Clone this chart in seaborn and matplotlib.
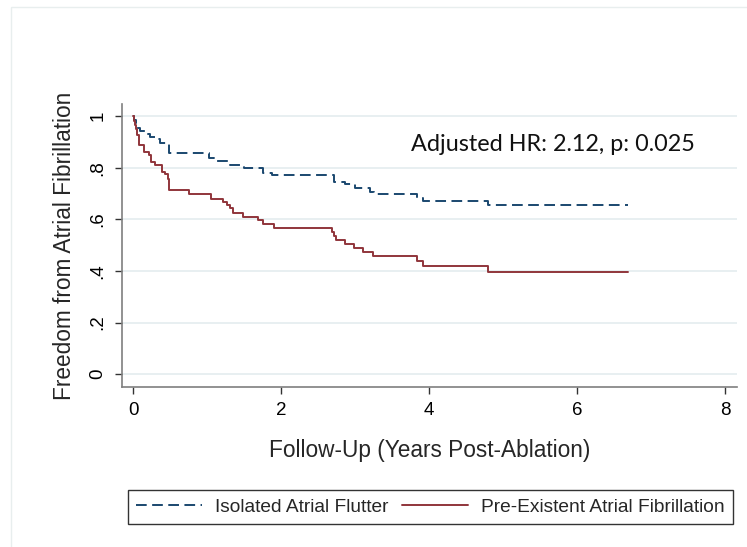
import numpy as np
import pandas as pd
import matplotlib
matplotlib.use("Agg")
import matplotlib.pyplot as plt
from matplotlib.patches import Rectangle
import seaborn as sns

# ---- data ----
flutter_time = [0.0, 0.01, 0.036, 0.06, 0.095, 0.17, 0.23, 0.30, 0.365, 0.49, 1.03, 1.10,
                1.31, 1.50, 1.76, 1.875, 2.71, 2.86, 3.00, 3.20, 3.25, 3.83, 3.92, 4.80, 6.69]
flutter_surv = [1.0, 0.985, 0.971, 0.955, 0.943, 0.932, 0.919, 0.91, 0.894, 0.856, 0.836, 0.827,
                0.81, 0.797, 0.78, 0.771, 0.746, 0.735, 0.72, 0.706, 0.70, 0.684, 0.671, 0.654, 0.654]

af_time = [0.0, 0.01, 0.02, 0.036, 0.05, 0.08, 0.153, 0.216, 0.243, 0.297, 0.396, 0.43, 0.468,
           0.49, 0.757, 1.054, 1.22, 1.266, 1.31, 1.356, 1.49, 1.694, 1.76, 1.90, 2.685, 2.72,
           2.74, 2.865, 2.98, 3.11, 3.24, 3.83, 3.92, 4.80, 6.69]
af_surv = [1.0, 0.98, 0.965, 0.95, 0.925, 0.887, 0.862, 0.849, 0.823, 0.81, 0.785, 0.775, 0.755,
           0.714, 0.70, 0.68, 0.668, 0.655, 0.642, 0.625, 0.61, 0.597, 0.58, 0.565, 0.552, 0.535,
           0.52, 0.505, 0.49, 0.475, 0.456, 0.44, 0.42, 0.394, 0.394]

groups = ["Isolated Atrial Flutter", "Pre-Existent Atrial Fibrillation"]
x_ticks = [0, 2, 4, 6, 8]
y_ticks = [0, 0.2, 0.4, 0.6, 0.8, 1.0]
y_tick_labels = ["0", ".2", ".4", ".6", ".8", "1"]
annotation = "Adjusted HR: 2.12, p: 0.025"

df = pd.concat([
    pd.DataFrame({"time": flutter_time, "surv": flutter_surv, "group": groups[0]}),
    pd.DataFrame({"time": af_time, "surv": af_surv, "group": groups[1]}),
], ignore_index=True)

sns.set_theme(style="white")
plt.rcParams["font.family"] = ["Liberation Sans", "DejaVu Sans"]

fig = plt.figure(figsize=(7.47, 5.47), dpi=100)

# faint outer graph-region outline
fig.patches.append(Rectangle((11 / 747, -0.05), 1.1, 1 - 7 / 547 + 0.05,
                             transform=fig.transFigure, fill=False,
                             edgecolor="#e8eeee", linewidth=1.0, zorder=0))

ax = fig.add_axes([122 / 747, 1 - 387 / 547, (737 - 122) / 747, (387 - 104) / 547])
ax.patch.set_alpha(0)

navy = "#1a476f"
maroon = "#90353b"
sns.lineplot(data=df, x="time", y="surv", hue="group", style="group",
             hue_order=groups, style_order=groups,
             palette={groups[0]: navy, groups[1]: maroon},
             dashes={groups[0]: (5.5, 2.8), groups[1]: ""},
             estimator=None, sort=False, drawstyle="steps-post",
             linewidth=1.4, ax=ax, legend=True)

ax.set_xlim(-0.149, 8.16)
ax.set_ylim(-0.05, 1.047)
ax.set_xticks(x_ticks)
ax.set_xticklabels([str(t) for t in x_ticks])
ax.set_yticks(y_ticks)
ax.set_yticklabels(y_tick_labels, rotation=90, va="center")
ax.yaxis.grid(True, color="#e6eef0", linewidth=1.3)
ax.xaxis.grid(False)
ax.set_axisbelow(True)

for s in ["top", "right"]:
    ax.spines[s].set_visible(False)
for s in ["left", "bottom"]:
    ax.spines[s].set_color("#7f7f7f")
    ax.spines[s].set_linewidth(1.2)

ax.tick_params(axis="both", direction="out", length=5, width=1, color="#333333",
               labelsize=13.5, labelcolor="black", pad=6)
ax.tick_params(axis="both", which="both", bottom=True, left=True)

ax.set_xlabel("Follow-Up (Years Post-Ablation)", fontsize=16.3, labelpad=14)
ax.set_ylabel("Freedom from Atrial Fibrillation", fontsize=16.3, labelpad=10)

ax.text(3.76, 0.89, annotation, fontsize=16.8, family=["Lato", "DejaVu Sans"],
        ha="left", va="center", color="#111111")

handles, labels = ax.get_legend_handles_labels()
ax.legend_.remove()
leg = fig.legend(handles, labels, loc="lower left",
                 bbox_to_anchor=(128 / 747, 1 - 524 / 547),
                 ncol=2, frameon=True, fancybox=False,
                 edgecolor="black", fontsize=13.8, handlelength=3.45,
                 handletextpad=0.68, columnspacing=0.68, borderpad=0.42,
                 borderaxespad=0)
leg.get_frame().set_linewidth(1.0)

fig.savefig("out.png", dpi=100, facecolor="white")
